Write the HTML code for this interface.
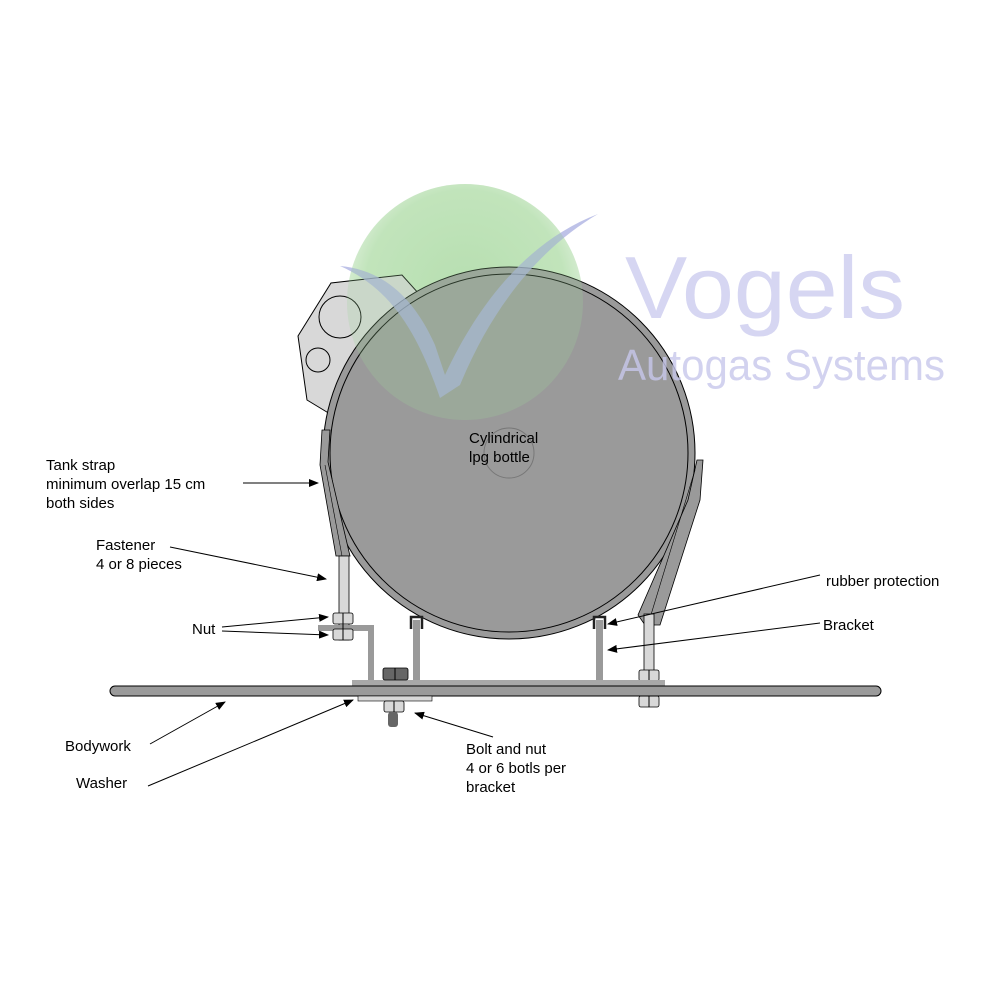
<!DOCTYPE html>
<html><head><style>body{margin:0;background:#fff}svg{display:block}</style></head>
<body>
<svg width="1000" height="1000" viewBox="0 0 1000 1000" xmlns="http://www.w3.org/2000/svg" font-family="Liberation Sans, sans-serif">
<defs>
<radialGradient id="g" cx="0.5" cy="0.45" r="0.5">
<stop offset="0" stop-color="#bfe3b8"/><stop offset="0.85" stop-color="#cdeac6"/><stop offset="1" stop-color="#e6f4e2"/>
</radialGradient>
<marker id="a" markerWidth="10" markerHeight="8" refX="9" refY="4" orient="auto" markerUnits="userSpaceOnUse"><path d="M0,0 L10,4 L0,8 z" fill="#000"/></marker>
</defs>
<!-- logo text -->
<text x="625" y="318" font-size="88" fill="#d6d6f2" textLength="280" lengthAdjust="spacingAndGlyphs">Vogels</text>
<!-- green circle -->
<circle cx="465" cy="302" r="118" fill="url(#g)"/>
<!-- side plate -->
<path d="M298,336 L331,283 L402,275 L420,295 L340,420 L307,400 Z" fill="#d8d8d8" stroke="#000" stroke-width="1"/>
<circle cx="340" cy="317" r="21" fill="none" stroke="#000"/>
<circle cx="318" cy="360" r="12" fill="none" stroke="#000"/>
<!-- tank -->
<circle cx="509" cy="453" r="186" fill="#9a9a9a" stroke="#000" stroke-width="1"/>
<circle cx="509" cy="453" r="179" fill="#9a9a9a" stroke="#000" stroke-width="1"/>
<circle cx="509" cy="453" r="25" fill="none" stroke="#777" stroke-width="1"/>
<text x="618" y="380" font-size="44" fill="#c8c8ec" opacity="0.8" textLength="327" lengthAdjust="spacingAndGlyphs">Autogas Systems</text>
<!-- checkmark overlay -->
<path d="M340,266 C385,270 415,300 435,345 L445,375 C480,300 530,240 598,214 C545,245 495,300 460,385 L440,398 C420,340 395,290 340,266 Z" fill="#a8aee0" opacity="0.75"/>
<circle cx="465" cy="302" r="118" fill="#9fd49a" opacity="0.25"/>
<!-- left strap -->
<path d="M322,430 L320,465 L336,556 L350,556 L328,462 L330,430 Z" fill="#9a9a9a" stroke="#000" stroke-width="0.8"/>
<path d="M325,465 L342,556" stroke="#000" stroke-width="0.6"/>
<!-- right strap -->
<path d="M697,460 L688,500 L638,615 L645,625 L660,625 L700,500 L703,460 Z" fill="#9a9a9a" stroke="#000" stroke-width="0.8"/>
<path d="M695,470 L650,618" stroke="#000" stroke-width="0.6"/>
<!-- left fastener -->
<rect x="339" y="556" width="10" height="84" fill="#d8d8d8" stroke="#000" stroke-width="0.8"/>
<path d="M318,625 L374,625 L374,680 L368,680 L368,631 L318,631 Z" fill="#9a9a9a"/>
<rect x="333" y="613" width="20" height="11" rx="2" fill="#d8d8d8" stroke="#000" stroke-width="0.8"/>
<rect x="333" y="629" width="20" height="11" rx="2" fill="#d8d8d8" stroke="#000" stroke-width="0.8"/>
<line x1="343" y1="613" x2="343" y2="640" stroke="#000"/>
<!-- right fastener -->
<rect x="644" y="614" width="10" height="90" fill="#d8d8d8" stroke="#000" stroke-width="0.8"/>
<rect x="639" y="670" width="20" height="11" rx="2" fill="#d8d8d8" stroke="#000" stroke-width="0.8"/>
<rect x="639" y="696" width="20" height="11" rx="2" fill="#d8d8d8" stroke="#000" stroke-width="0.8"/>
<line x1="649" y1="670" x2="649" y2="707" stroke="#000"/>
<!-- inner brackets -->
<rect x="413" y="620" width="7" height="62" fill="#9a9a9a"/>
<rect x="596" y="620" width="7" height="62" fill="#9a9a9a"/>
<path d="M411,629 L411,617 L422,617 L422,629" fill="none" stroke="#222" stroke-width="2.5"/>
<path d="M594,629 L594,617 L605,617 L605,629" fill="none" stroke="#222" stroke-width="2.5"/>
<!-- plate -->
<rect x="352" y="680" width="313" height="7" fill="#a8a8a8"/>
<rect x="383" y="668" width="25" height="12" rx="2" fill="#666" stroke="#000" stroke-width="0.8"/>
<line x1="395" y1="668" x2="395" y2="680" stroke="#000"/>
<!-- bodywork -->
<rect x="110" y="686" width="771" height="10" rx="5" fill="#9a9a9a" stroke="#000" stroke-width="1"/>
<rect x="358" y="696" width="74" height="5" fill="#d8d8d8" stroke="#000" stroke-width="0.6"/>
<rect x="384" y="701" width="20" height="11" rx="2" fill="#d8d8d8" stroke="#000" stroke-width="0.8"/>
<line x1="394" y1="701" x2="394" y2="712" stroke="#000"/>
<rect x="388" y="712" width="10" height="15" rx="3" fill="#666"/>
<!-- labels -->
<g font-size="15" fill="#000">
<text x="469" y="443">Cylindrical</text>
<text x="469" y="462">lpg bottle</text>
<text x="46" y="470">Tank strap</text>
<text x="46" y="489">minimum overlap 15 cm</text>
<text x="46" y="508">both sides</text>
<text x="96" y="550">Fastener</text>
<text x="96" y="569">4 or 8 pieces</text>
<text x="192" y="634">Nut</text>
<text x="65" y="751">Bodywork</text>
<text x="76" y="788">Washer</text>
<text x="466" y="754">Bolt and nut</text>
<text x="466" y="773">4 or 6 botls per</text>
<text x="466" y="792">bracket</text>
<text x="826" y="586">rubber protection</text>
<text x="823" y="630">Bracket</text>
</g>
<g stroke="#000" stroke-width="1" fill="none" marker-end="url(#a)">
<line x1="243" y1="483" x2="318" y2="483"/>
<line x1="170" y1="547" x2="326" y2="579"/>
<line x1="222" y1="627" x2="328" y2="617"/>
<line x1="222" y1="631" x2="328" y2="635"/>
<line x1="150" y1="744" x2="225" y2="702"/>
<line x1="148" y1="786" x2="353" y2="700"/>
<line x1="493" y1="737" x2="415" y2="713"/>
<line x1="820" y1="575" x2="608" y2="624"/>
<line x1="820" y1="623" x2="608" y2="650"/>
</g>
</svg>
</body></html>
